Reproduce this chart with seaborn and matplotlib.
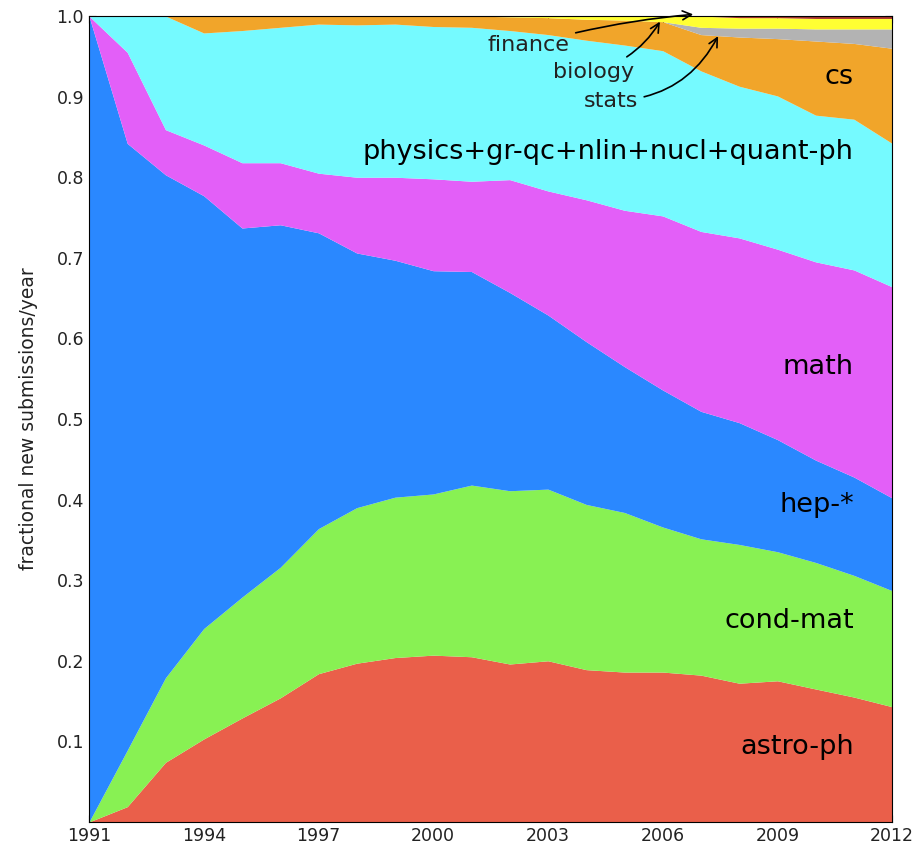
import numpy as np
import matplotlib
matplotlib.use('Agg')
import matplotlib.pyplot as plt
import seaborn as sns

# ------- Data (fraction of new submissions per year) -------
years = list(range(1991, 2013))

astro_ph = [0.000, 0.019, 0.074, 0.103, 0.129, 0.154, 0.184, 0.197, 0.204, 0.207, 0.205,
            0.196, 0.200, 0.189, 0.186, 0.186, 0.182, 0.172, 0.175, 0.165, 0.155, 0.143]
cond_mat = [0.000, 0.070, 0.105, 0.137, 0.150, 0.162, 0.180, 0.193, 0.199, 0.200, 0.213,
            0.215, 0.213, 0.205, 0.198, 0.180, 0.169, 0.172, 0.160, 0.157, 0.151, 0.144]
hep      = [1.000, 0.753, 0.624, 0.537, 0.458, 0.425, 0.367, 0.316, 0.294, 0.277, 0.265,
            0.246, 0.216, 0.202, 0.181, 0.170, 0.158, 0.151, 0.139, 0.127, 0.122, 0.115]
math_    = [0.000, 0.113, 0.056, 0.063, 0.081, 0.077, 0.074, 0.094, 0.103, 0.114, 0.112,
            0.140, 0.154, 0.176, 0.194, 0.216, 0.223, 0.229, 0.236, 0.246, 0.257, 0.262]
physics  = [0.000, 0.045, 0.141, 0.139, 0.164, 0.168, 0.185, 0.189, 0.190, 0.189, 0.191,
            0.185, 0.194, 0.198, 0.205, 0.205, 0.199, 0.188, 0.190, 0.182, 0.187, 0.178]
cs       = [0.000, 0.000, 0.000, 0.021, 0.018, 0.014, 0.010, 0.011, 0.010, 0.013, 0.014,
            0.017, 0.021, 0.026, 0.031, 0.036, 0.045, 0.061, 0.071, 0.092, 0.094, 0.118]
stats    = [0.000, 0.000, 0.000, 0.000, 0.000, 0.000, 0.000, 0.000, 0.000, 0.000, 0.000,
            0.000, 0.000, 0.000, 0.000, 0.000, 0.009, 0.011, 0.013, 0.015, 0.018, 0.024]
biology  = [0.000, 0.000, 0.000, 0.000, 0.000, 0.000, 0.000, 0.000, 0.000, 0.000, 0.000,
            0.001, 0.002, 0.004, 0.005, 0.007, 0.014, 0.013, 0.013, 0.013, 0.013, 0.013]
finance  = [0.000, 0.000, 0.000, 0.000, 0.000, 0.000, 0.000, 0.000, 0.000, 0.000, 0.000,
            0.000, 0.000, 0.000, 0.000, 0.000, 0.000, 0.002, 0.002, 0.003, 0.003, 0.003]

series = [astro_ph, cond_mat, hep, math_, physics, cs, stats, biology, finance]
colors = ['#EA5F4A', '#88F153', '#2A88FF', '#E35FF8', '#75FAFF',
          '#F1A52A', '#B3B3B3', '#FFFF33', '#A8322A']

area_labels = ['astro-ph', 'cond-mat', 'hep-*', 'math',
               'physics+gr-qc+nlin+nucl+quant-ph', 'cs']
label_y = [0.093, 0.249, 0.393, 0.565, 0.831, 0.924]

# ------- Style -------
sns.set_style('white', {
    'xtick.direction': 'in', 'ytick.direction': 'in',
    'axes.edgecolor': 'black', 'axes.linewidth': 1.0,
    'xtick.top': True, 'ytick.right': True,
    'xtick.bottom': True, 'ytick.left': True,
    'text.color': 'black', 'axes.labelcolor': 'black',
    'xtick.color': 'black', 'ytick.color': 'black',
})
plt.rcParams['font.family'] = ['DejaVu Sans']

vals = np.array(series, dtype=float)
vals = vals / vals.sum(axis=0)

fig = plt.figure(figsize=(9.21, 8.48), dpi=100)
ax = fig.add_axes([0.0966, 0.0307, 0.8720, 0.9504])

ax.stackplot(years, vals, colors=colors, linewidth=0)

ax.set_xlim(1991, 2012)
ax.set_ylim(0.0, 1.0)
ax.set_xticks(range(1991, 2013, 3))
ax.set_yticks(np.arange(0.1, 1.01, 0.1))
ax.set_yticklabels([f'{v:.1f}' for v in np.arange(0.1, 1.01, 0.1)])
ax.tick_params(axis='both', which='major', length=5, width=0.8,
               labelsize=12.5, color='black', labelcolor='#222222',
               top=True, right=True)
ax.set_ylabel('fractional new submissions/year', fontsize=13.5, color='#222222')
ax.yaxis.set_label_coords(-0.064, 0.5)

for name, yv in zip(area_labels, label_y):
    ax.text(2011.0, yv, name, ha='right', va='center', fontsize=19.5, color='black')

arrow = dict(arrowstyle='->', color='black', lw=1.2)
ax.annotate('finance', xy=(2006.8, 1.002), xytext=(2002.5, 0.964),
            ha='center', va='center', fontsize=16, color='#222222', annotation_clip=False,
            arrowprops=dict(arrow, connectionstyle='arc3,rad=-0.05',
                            shrinkA=2, shrinkB=0))
ax.annotate('biology', xy=(2005.93, 0.993), xytext=(2004.2, 0.931),
            ha='center', va='center', fontsize=16, color='#222222',
            arrowprops=dict(arrow, connectionstyle='arc3,rad=0.2', shrinkB=0))
ax.annotate('stats', xy=(2007.45, 0.975), xytext=(2004.65, 0.895),
            ha='center', va='center', fontsize=16, color='#222222',
            arrowprops=dict(arrow, connectionstyle='arc3,rad=0.3', shrinkB=0))

fig.savefig('out.png', dpi=100)
